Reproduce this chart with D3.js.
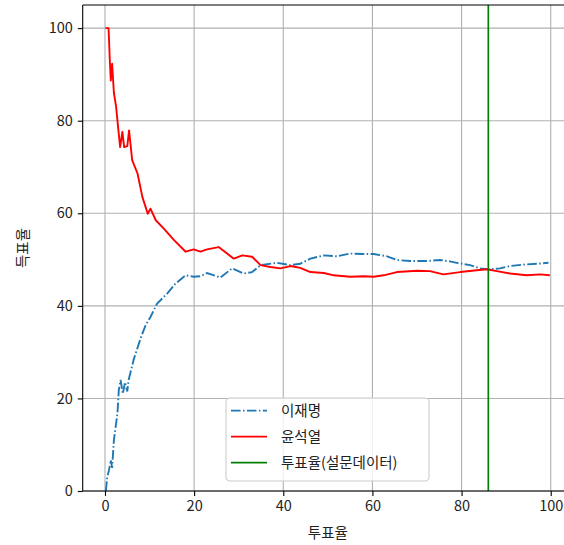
<!DOCTYPE html>
<html>
<head>
<meta charset="utf-8">
<script src="https://cdn.jsdelivr.net/npm/d3@7"></script>
<style>
  body { margin: 0; background: #fff; }
  svg { display: block; font-family: "Noto Sans CJK KR", "Noto Sans", sans-serif; }
</style>
</head>
<body>
<div id="chart"></div>
<script>
var seriesNames = ["이재명", "윤석열", "투표율(설문데이터)"];
var xTicks = [0, 20, 40, 60, 80, 100],
    yTicks = [0, 20, 40, 60, 80, 100];

var leeX = [0.2, 0.5, 0.9, 1.3, 1.6, 2.0, 2.8, 3.1, 3.5, 4.0, 4.5, 5.0, 5.3, 6.5, 8.0, 9.1, 10.2, 11.7, 14.0, 15.8, 18.1, 19.9, 21.4, 22.9, 25.9, 28.5, 31.1, 33.0, 34.9, 38.6, 41.6, 43.8, 46.1, 49.1, 52.1, 55.0, 58.0, 60.3, 63.3, 65.5, 68.5, 72.2, 75.2, 77.4, 78.9, 81.9, 84.2, 86.0, 88.6, 90.9, 93.9, 96.9, 99.5];
var leeY = [0, 3, 4.5, 6.7, 5, 11, 16.8, 21.8, 24, 21, 23.5, 21.5, 24, 28.6, 33, 35.8, 37.6, 40.5, 42.7, 44.8, 46.6, 46.3, 46.4, 47.1, 46.1, 48.1, 47, 47.3, 48.8, 49.3, 48.8, 49.1, 50.2, 50.9, 50.7, 51.3, 51.2, 51.2, 50.7, 49.9, 49.7, 49.7, 49.9, 49.6, 49.3, 48.8, 48.1, 47.9, 48.1, 48.6, 48.9, 49.1, 49.3];

var yoonX = [0.1, 0.8, 1.1, 1.3, 1.6, 2.0, 2.5, 2.9, 3.4, 3.9, 4.3, 5.0, 5.4, 6.1, 7.3, 8.4, 9.6, 10.2, 11.4, 13.2, 15.5, 18.1, 19.9, 21.4, 22.9, 25.5, 28.9, 30.8, 33.0, 34.9, 37.1, 39.4, 41.6, 43.8, 46.1, 49.1, 51.3, 55.0, 58.0, 60.3, 62.5, 65.5, 70.0, 72.9, 75.9, 79.7, 83.4, 85.7, 87.9, 90.9, 94.6, 97.6, 99.8];
var yoonY = [100, 100, 92.7, 88.7, 92.3, 86, 83, 79, 74.3, 77.6, 74.3, 74.5, 77.9, 71.5, 68.6, 63.5, 59.9, 61, 58.5, 56.7, 54.2, 51.7, 52.2, 51.7, 52.2, 52.7, 50.2, 50.9, 50.6, 48.8, 48.4, 48.1, 48.6, 48.2, 47.3, 47.1, 46.6, 46.3, 46.4, 46.3, 46.6, 47.3, 47.6, 47.5, 46.8, 47.3, 47.7, 47.9, 47.5, 47, 46.6, 46.8, 46.6];

var turnout = 86;

var W = 564, H = 545;
var pLeft = 82.7, pTop = 5, pRight = 573, pBottom = 491;

var svg = d3.select("#chart").append("svg").attr("width", W).attr("height", H);

var x = d3.scaleLinear().domain([-5, 105]).range([pLeft, pRight]);
var y = d3.scaleLinear().domain([0, 105]).range([pBottom, pTop]);

// grid
svg.append("g").selectAll("line").data(xTicks).enter().append("line")
  .attr("x1", function (d) { return x(d); }).attr("x2", function (d) { return x(d); })
  .attr("y1", pTop).attr("y2", pBottom)
  .attr("stroke", "#b0b0b0").attr("stroke-width", 1.1);
svg.append("g").selectAll("line").data(yTicks).enter().append("line")
  .attr("y1", function (d) { return y(d); }).attr("y2", function (d) { return y(d); })
  .attr("x1", pLeft).attr("x2", pRight)
  .attr("stroke", "#b0b0b0").attr("stroke-width", 1.1);

var line = d3.line().x(function (d) { return x(d[0]); }).y(function (d) { return y(d[1]); });
svg.append("clipPath").attr("id", "clip").append("rect")
  .attr("x", pLeft).attr("y", pTop).attr("width", pRight - pLeft).attr("height", pBottom - pTop);

var plot = svg.append("g").attr("clip-path", "url(#clip)");
plot.append("path").datum(d3.zip(leeX, leeY)).attr("d", line)
  .attr("fill", "none").attr("stroke", "#1f77b4").attr("stroke-width", 1.9)
  .attr("stroke-dasharray", "9.6,2.4,1.5,2.4");
plot.append("path").datum(d3.zip(yoonX, yoonY)).attr("d", line)
  .attr("fill", "none").attr("stroke", "red").attr("stroke-width", 1.9)
  .attr("stroke-linejoin", "round");
plot.append("line").attr("x1", x(turnout)).attr("x2", x(turnout))
  .attr("y1", pTop).attr("y2", pBottom)
  .attr("stroke", "green").attr("stroke-width", 1.7);

// axes
var xAxis = d3.axisBottom(x).tickValues(xTicks).tickSize(4.9).tickPadding(4.9).tickSizeOuter(0);
var yAxis = d3.axisLeft(y).tickValues(yTicks).tickSize(4.9).tickPadding(4.9).tickSizeOuter(0);
var gx = svg.append("g").attr("transform", "translate(0," + pBottom + ")").call(xAxis);
var gy = svg.append("g").attr("transform", "translate(" + pLeft + ",0)").call(yAxis);
[gx, gy].forEach(function (g) {
  g.select(".domain").remove();
  g.selectAll(".tick line").attr("stroke", "#000").attr("stroke-width", 1.1);
  g.selectAll(".tick text").attr("fill", "#222").style("font-size", "14.5px")
    .style("font-family", "'Noto Sans CJK KR', 'Noto Sans', sans-serif");
});

// spines
svg.append("line").attr("x1", pLeft).attr("x2", pLeft).attr("y1", pTop).attr("y2", pBottom).attr("stroke", "#000").attr("stroke-width", 1.1);
svg.append("line").attr("x1", pLeft).attr("x2", pRight).attr("y1", pBottom).attr("y2", pBottom).attr("stroke", "#000").attr("stroke-width", 1.1);
svg.append("line").attr("x1", pLeft).attr("x2", pRight).attr("y1", pTop).attr("y2", pTop).attr("stroke", "#000").attr("stroke-width", 1.1);
svg.append("line").attr("x1", pRight).attr("x2", pRight).attr("y1", pTop).attr("y2", pBottom).attr("stroke", "#000").attr("stroke-width", 1.1);

// axis labels
svg.append("text").text("투표율").attr("x", (pLeft + pRight) / 2).attr("y", 538)
  .attr("text-anchor", "middle").attr("font-size", "14.5px").attr("fill", "#222");
svg.append("text").text("득표율").attr("transform", "translate(28," + ((pTop + pBottom) / 2) + ") rotate(-90)")
  .attr("text-anchor", "middle").attr("font-size", "14.5px").attr("fill", "#222");

// legend
var lg = svg.append("g").attr("transform", "translate(226,398)");
lg.append("rect").attr("width", 203).attr("height", 83).attr("rx", 4)
  .attr("fill", "#fff").attr("fill-opacity", 0.8).attr("stroke", "#cccccc").attr("stroke-width", 1.1);
var legendStyles = [
  { color: "#1f77b4", dash: "9.6,2.4,1.5,2.4" },
  { color: "red", dash: null },
  { color: "green", dash: null }
];
var items = lg.selectAll(".item").data(seriesNames).enter().append("g")
  .attr("transform", function (d, i) { return "translate(0," + (12.7 + i * 26) + ")"; });
items.append("line").attr("x1", 5).attr("x2", 41).attr("y1", 0).attr("y2", 0)
  .attr("stroke", function (d, i) { return legendStyles[i].color; })
  .attr("stroke-width", 1.8)
  .attr("stroke-dasharray", function (d, i) { return legendStyles[i].dash; });
items.append("text").text(function (d) { return d; }).attr("x", 55).attr("y", 5.5)
  .attr("font-size", "14.5px").attr("fill", "#222");
</script>
</body>
</html>
